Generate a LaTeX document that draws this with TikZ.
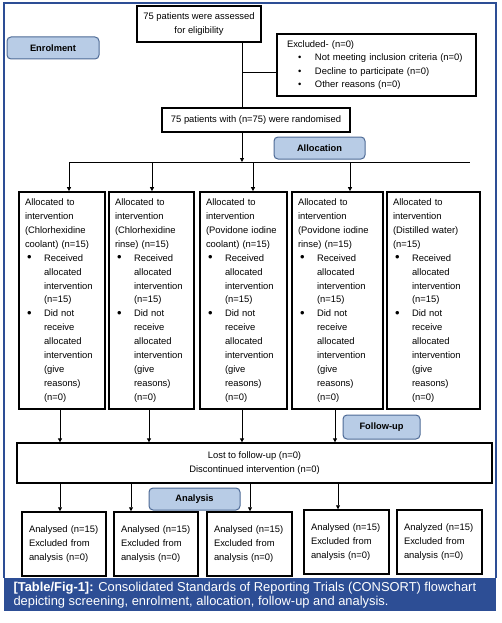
\documentclass[tikz,border=0pt]{standalone}
\usepackage{fontspec}
\setmainfont{Liberation Sans}
\usetikzlibrary{arrows.meta}

\definecolor{pillfill}{HTML}{B8CCE6}
\definecolor{pillline}{HTML}{4E6A96}
\definecolor{bandblue}{HTML}{2D4E95}

\newcommand{\bul}[1]{\makebox[19pt][l]{\hspace{2pt}\raisebox{-0.5pt}{\fontsize{13}{13}\selectfont\textbullet}}#1}
\newcommand{\ind}{\hspace*{19pt}}
\newcommand{\xbul}[1]{\hspace*{11pt}\mbox{\makebox[17pt][l]{\textbullet}#1}}

\tikzset{
  stage/.style={draw=pillline,fill=pillfill,line width=1pt,rounded corners=4pt,
    inner sep=0pt,font=\fontsize{9.3}{11}\selectfont\bfseries},
  box/.style={draw,line width=1.3pt,inner sep=0pt,font=\fontsize{9.4}{14}\selectfont},
  arm/.style={box,line width=1.7pt,align=left,inner xsep=6pt,minimum height=217pt,
    font=\fontsize{9.4}{13.9}\selectfont},
  anbox/.style={box,line width=1.5pt,align=left,inner xsep=7pt,minimum height=64pt},
  arr/.style={-{Triangle[length=4pt,width=4pt]},line width=0.8pt},
}

\begin{document}
\begin{tikzpicture}[x=1pt,y=-1pt]
  \useasboundingbox (0,0) rectangle (501,623);
  \fill[bandblue] (4,578) rectangle (496,611);
  \draw[bandblue,line width=1.2pt] (4,578) -- (4,3) -- (496,3) -- (496,578);
  \node[white,anchor=west,align=left,font=\fontsize{12.9}{14}\selectfont] (caption) at (10,595)
    {\textbf{[Table/Fig-1]:} Consolidated Standards of Reporting Trials (CONSORT) flowchart\\
     depicting screening, enrolment, allocation, follow-up and analysis.};

  % enrolment
  \node[stage,minimum width=92pt,minimum height=22pt] (enrol) at (53,48) {Enrolment};
  \node[box,minimum width=124pt,minimum height=36pt,align=center] (top) at (199,24)
    {75 patients were assessed\\for eligibility};
  \node[box,minimum width=199pt,minimum height=62pt,text width=179pt,align=left,
    inner xsep=10pt,font=\fontsize{9.4}{13.3}\selectfont] (excl) at (376.5,65)
    {Excluded- (n=0)\\
     \xbul{Not meeting inclusion criteria (n=0)}\\
     \xbul{Decline to participate (n=0)}\\
     \xbul{Other reasons (n=0)}};
  \node[box,minimum width=188pt,minimum height=24pt] (rand) at (256,120)
    {75 patients with (n=75) were randomised};
  \coordinate (spine) at (242,0);
  \coordinate (xj) at (242,72);
  \coordinate (split) at (242,162);
  \draw[line width=0.8pt] (top.south -| spine) -- (rand.north -| spine);
  \draw[line width=0.8pt] (xj) -- (xj -| excl.west);

  % allocation
  \node[stage,minimum width=91pt,minimum height=22pt] (alloc) at (319.5,148) {Allocation};
  \draw[arr] (rand.south -| spine) -- (split);
  \draw[line width=0.8pt] (69,162) -- (470,162);

  \node[arm,minimum width=86pt,text width=74pt] (arm1) at (62,300.5)
    {Allocated to\\intervention\\(Chlorhexidine\\coolant) (n=15)\\
     \bul{Received}\\\ind allocated\\\ind intervention\\\ind (n=15)\\
     \bul{Did not}\\\ind receive\\\ind allocated\\\ind intervention\\\ind (give\\\ind reasons)\\\ind (n=0)};
  \node[arm,minimum width=85pt,text width=73pt] (arm2) at (151.5,300.5)
    {Allocated to\\intervention\\(Chlorhexidine\\rinse) (n=15)\\
     \bul{Received}\\\ind allocated\\\ind intervention\\\ind (n=15)\\
     \bul{Did not}\\\ind receive\\\ind allocated\\\ind intervention\\\ind (give\\\ind reasons)\\\ind (n=0)};
  \node[arm,minimum width=87pt,text width=75pt] (arm3) at (243.5,300.5)
    {Allocated to\\intervention\\(Povidone iodine\\coolant) (n=15)\\
     \bul{Received}\\\ind allocated\\\ind intervention\\\ind (n=15)\\
     \bul{Did not}\\\ind receive\\\ind allocated\\\ind intervention\\\ind (give\\\ind reasons)\\\ind (n=0)};
  \node[arm,minimum width=91pt,text width=79pt] (arm4) at (337.5,300.5)
    {Allocated to\\intervention\\(Povidone iodine\\rinse) (n=15)\\
     \bul{Received}\\\ind allocated\\\ind intervention\\\ind (n=15)\\
     \bul{Did not}\\\ind receive\\\ind allocated\\\ind intervention\\\ind (give\\\ind reasons)\\\ind (n=0)};
  \node[arm,minimum width=93pt,text width=81pt] (arm5) at (433.5,300.5)
    {Allocated to\\intervention\\(Distilled water)\\(n=15)\\
     \bul{Received}\\\ind allocated\\\ind intervention\\\ind (n=15)\\
     \bul{Did not}\\\ind receive\\\ind allocated\\\ind intervention\\\ind (give\\\ind reasons)\\\ind (n=0)};
  \foreach \i/\x in {1/69,2/152,3/253,4/350}
    \draw[arr] (\x,162) -- (\x,0 |- arm\i.north);

  % follow-up
  \node[stage,minimum width=77pt,minimum height=24pt] (follow) at (381.5,427) {Follow-up};
  \node[box,minimum width=475pt,minimum height=40pt,align=center] (lost) at (254.5,463)
    {Lost to follow-up (n=0)\\Discontinued intervention (n=0)};
  \foreach \i/\x in {1/60,2/149,3/242,4/335}
    \draw[arr] (\x,0 |- arm\i.south) -- (\x,0 |- lost.north);

  % analysis
  \node[stage,minimum width=91pt,minimum height=22pt] (analysis) at (194.5,499) {Analysis};
  \node[anbox,minimum width=84pt,text width=70pt] (an1) at (64,544)
    {Analysed (n=15)\\Excluded from\\analysis (n=0)};
  \node[anbox,minimum width=84pt,text width=70pt] (an2) at (156,544)
    {Analysed (n=15)\\Excluded from\\analysis (n=0)};
  \node[anbox,minimum width=85pt,text width=71pt] (an3) at (249.5,544)
    {Analysed (n=15)\\Excluded from\\analysis (n=0)};
  \node[anbox,minimum width=85pt,text width=71pt] (an4) at (346.5,542)
    {Analysed (n=15)\\Excluded from\\analysis (n=0)};
  \node[anbox,minimum width=85pt,text width=71pt] (an5) at (439.5,542)
    {Analyzed (n=15)\\Excluded from\\analysis (n=0)};
  \foreach \i/\x in {1/60,2/131,3/250,4/338}
    \draw[arr] (\x,0 |- lost.south) -- (\x,0 |- an\i.north);
\end{tikzpicture}
\end{document}
